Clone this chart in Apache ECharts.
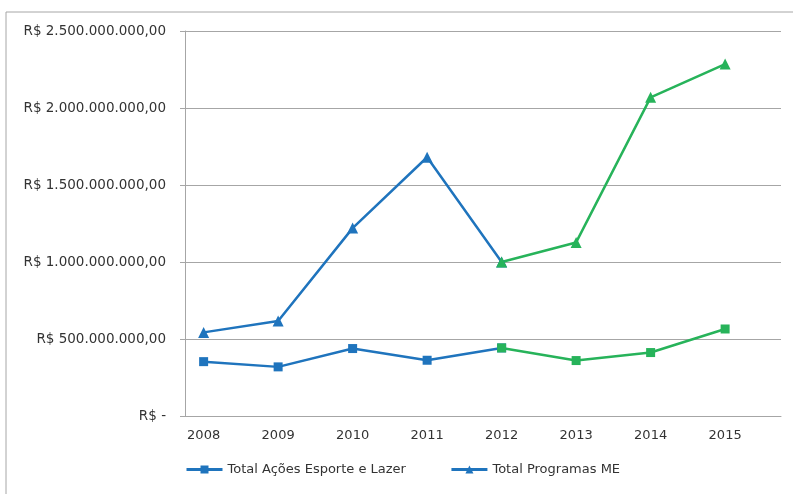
<!DOCTYPE html>
<html>
<head>
<meta charset="utf-8">
<script src="https://cdn.jsdelivr.net/npm/echarts@6/dist/echarts.min.js"></script>
<style>
  html, body { margin: 0; padding: 0; background: #fff; }
  #chart { width: 793px; height: 494px; }
</style>
</head>
<body>
<div id="chart"></div>
<script>
// anos (cada ano ocupa duas colunas no eixo, como no gráfico original)
var years = ['2008', '2009', '2010', '2011', '2012', '2013', '2014', '2015'];
var acoesEsporte = [353e6, 319e6, 438e6, 362e6, 442e6, 360e6, 412e6, 565e6];
var programasME = [543e6, 617e6, 1220e6, 1680e6, 1000e6, 1127e6, 2069e6, 2285e6];
var yTicks = [0, 500e6, 1000e6, 1500e6, 2000e6, 2500e6];
var splitAt = 4; // a partir de 2012 a linha fica verde

var BLUE = '#1f74bd';
var GREEN = '#27b35a';
var FONT = 'DejaVu Sans';

// eixo com 16 colunas, rótulo só nas pares
var cats = [];
years.forEach(function (y) { cats.push(y, ''); });
function pairs(arr, from, to) {
  var out = [];
  for (var i = from; i <= to; i++) out.push([years[i], arr[i]]);
  return out;
}

function fmtBRL(v) {
  if (!v) return 'R$ -';
  var s = String(Math.round(v)).replace(/\B(?=(\d{3})+(?!\d))/g, '.');
  return 'R$ ' + s + ',00';
}

function lineSeries(name, arr, symbol, size, color, from, to) {
  return {
    name: name,
    type: 'line',
    data: pairs(arr, from, to),
    symbol: symbol,
    symbolSize: size,
    lineStyle: { width: 2.5, color: color },
    itemStyle: { color: color }
  };
}

var last = years.length - 1;
var chart = echarts.init(document.getElementById('chart'));
var option = {
  animation: false,
  textStyle: { fontFamily: FONT },
  graphic: [{
    type: 'rect',
    shape: { x: 6, y: 12, width: 820, height: 520 },
    style: { fill: 'none', stroke: '#a6a6a6', lineWidth: 1 },
    silent: true
  }],
  grid: { left: 185, right: 12, top: 31, bottom: 78 },
  legend: {
    bottom: 18,
    left: 185,
    padding: 0,
    itemWidth: 36,
    itemHeight: 10,
    itemGap: 44,
    lineStyle: { width: 3 },
    textStyle: { fontFamily: FONT, fontSize: 13, color: '#333' },
    data: ['Total Ações Esporte e Lazer', 'Total Programas ME']
  },
  xAxis: {
    type: 'category',
    data: cats,
    boundaryGap: true,
    axisLine: { lineStyle: { color: '#a6a6a6' } },
    axisTick: { interval: 0, length: 5, lineStyle: { color: '#a6a6a6' } },
    axisLabel: { interval: 0, margin: 13, fontSize: 13, color: '#333', fontFamily: FONT }
  },
  yAxis: {
    type: 'value',
    min: 0,
    max: yTicks[yTicks.length - 1],
    interval: yTicks[1] - yTicks[0],
    axisLine: { show: true, lineStyle: { color: '#a6a6a6' } },
    axisTick: { show: true, length: 5, lineStyle: { color: '#a6a6a6' } },
    splitLine: { lineStyle: { color: '#a6a6a6' } },
    axisLabel: { margin: 19, fontSize: 13.5, color: '#333', fontFamily: FONT, formatter: fmtBRL }
  },
  series: [
    lineSeries('Total Ações Esporte e Lazer', acoesEsporte, 'rect', 9, BLUE, 0, splitAt),
    lineSeries('Total Programas ME', programasME, 'triangle', 11, BLUE, 0, splitAt),
    lineSeries('Total Ações Esporte e Lazer', acoesEsporte, 'rect', 9, GREEN, splitAt, last),
    lineSeries('Total Programas ME', programasME, 'triangle', 11, GREEN, splitAt, last)
  ]
};
chart.setOption(option);
</script>
</body>
</html>
